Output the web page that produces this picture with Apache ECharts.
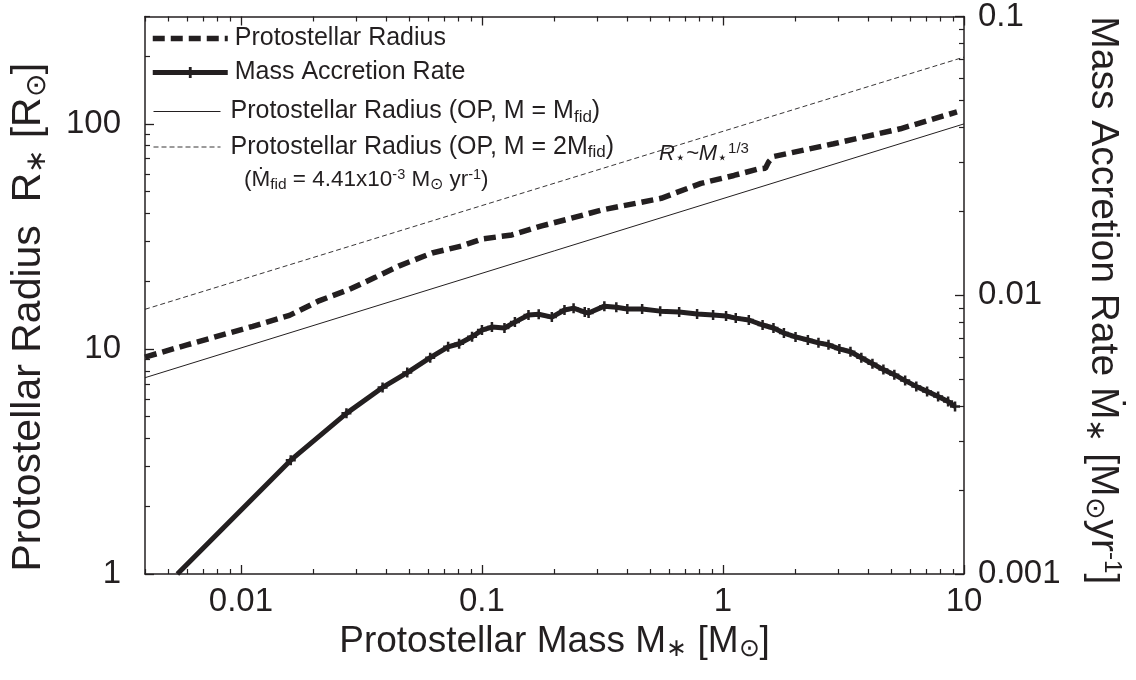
<!DOCTYPE html>
<html><head><meta charset="utf-8">
<script src="https://cdn.jsdelivr.net/npm/echarts@6/dist/echarts.min.js"></script>
<style>html,body{margin:0;padding:0;background:#fff}#c{width:1136px;height:680px}</style>
</head><body><div id="c"></div>
<script>
// ---- data ----
const radiusMass = [0.004, 0.00593, 0.0112, 0.0159, 0.0212, 0.0282, 0.0361, 0.0454, 0.0621, 0.0826, 0.1, 0.133, 0.177, 0.235, 0.313, 0.554, 0.81, 1.11, 1.40, 1.50, 1.55, 1.62, 2.88, 5.44, 9.35];
const radiusValues = [9.2, 10.4, 12.6, 14.1, 16.4, 18.4, 20.8, 23.4, 26.7, 28.7, 30.8, 32.1, 35.2, 38.1, 41.4, 46.7, 54.4, 59.0, 63.0, 63.5, 68.0, 71.6, 81.6, 95.1, 113];

const accMass = [0.00545, 0.0161, 0.0274, 0.0387, 0.049, 0.061, 0.0724, 0.0804, 0.091, 0.1, 0.11, 0.124, 0.137, 0.156, 0.172, 0.195, 0.220, 0.240, 0.267, 0.277, 0.322, 0.361, 0.401, 0.462, 0.549, 0.658, 0.781, 0.91, 1.03, 1.13, 1.28, 1.46, 1.62, 1.79, 2.0, 2.25, 2.49, 2.74, 3.04, 3.38, 3.75, 4.17, 4.63, 5.14, 5.70, 6.34, 7.03, 7.81, 8.59, 9.18];
const accRate = [0.001, 0.00256, 0.00377, 0.00467, 0.00528, 0.00597, 0.00653, 0.0067, 0.0071, 0.0075, 0.00769, 0.00763, 0.00801, 0.00849, 0.00855, 0.00835, 0.00885, 0.00899, 0.0087, 0.00863, 0.00914, 0.00906, 0.00892, 0.00892, 0.00877, 0.0087, 0.00856, 0.00849, 0.00842, 0.00828, 0.00815, 0.00782, 0.00763, 0.00732, 0.00709, 0.00691, 0.00675, 0.00664, 0.00642, 0.00627, 0.00597, 0.00568, 0.00541, 0.00519, 0.00494, 0.00471, 0.00452, 0.00433, 0.00416, 0.00399];

const opMass = [0.004, 10];
const opRadiusFid = [7.45, 100];
const opRadius2Fid = [15.0, 198];

const xMajor = [0.01, 0.1, 1, 10];
const xMajorLabels = ['0.01', '0.1', '1', '10'];
const xMinor = [0.004, 0.005, 0.006, 0.007, 0.008, 0.009, 0.02, 0.03, 0.04, 0.05, 0.06, 0.07, 0.08, 0.09, 0.2, 0.3, 0.4, 0.5, 0.6, 0.7, 0.8, 0.9, 2, 3, 4, 5, 6, 7, 8, 9];
const yLeftMajor = [1, 10, 100];
const yLeftMajorLabels = ['1', '10', '100'];
const yLeftMinor = [2, 3, 4, 5, 6, 7, 8, 9, 20, 30, 40, 50, 60, 70, 80, 90, 200, 300];
const yRightMajor = [0.001, 0.01, 0.1];
const yRightMajorLabels = ['0.001', '0.01', '0.1'];
const yRightMinor = [0.002, 0.003, 0.004, 0.005, 0.006, 0.007, 0.008, 0.009, 0.02, 0.03, 0.04, 0.05, 0.06, 0.07, 0.08, 0.09];

const seriesNames = ['Protostellar Radius', 'Mass Accretion Rate', 'Protostellar Radius (OP, M = Mfid)', 'Protostellar Radius (OP, M = 2Mfid)'];

// ---- chart ----
const INK = '#231f20';
const FONT = "'Liberation Sans', Arial, Helvetica, sans-serif";
const zip = (a, b) => a.map((v, i) => [v, b[i]]);
const labelMap = (vals, labels) => v => { const i = vals.findIndex(x => Math.abs(x - v) / x < 1e-6); return i >= 0 ? labels[i] : ''; };
const plus = 'path://M3,0h2v3h3v2h-3v3h-2v-3h-3v-2h3z';

const tickAxisBase = (extra) => Object.assign({
  type: 'log', logBase: 10, splitLine: { show: false },
  axisLine: { show: false }, axisLabel: { show: false }
}, extra);

const nameRich = (n, s, p) => ({
  n: { fontSize: n, lineHeight: n + 4, fontFamily: FONT, color: INK },
  s: { fontSize: s, lineHeight: s + 2, verticalAlign: 'bottom', fontFamily: FONT, color: INK },
  p: { fontSize: p, lineHeight: p + 2, verticalAlign: 'top', fontFamily: FONT, color: INK }
});

const chart = echarts.init(document.getElementById('c'), null, { renderer: 'canvas' });
const accData = zip(accMass, accRate).map((p, i) => i === 0 ? { value: p, symbol: 'none' } : p);

chart.setOption({
  animation: false,
  backgroundColor: '#fff',
  textStyle: { fontFamily: FONT, color: INK },
  grid: { left: 141, right: 172, top: 12, bottom: 106 },
  xAxis: [
    tickAxisBase({
      position: 'bottom', min: 0.004, max: 10,
      axisLine: { show: true, onZero: false, lineStyle: { color: INK, width: 1.5 } },
      axisTick: { show: true, inside: true, length: 9, customValues: xMajor, lineStyle: { color: INK, width: 1.3 } },
      axisLabel: { show: true, customValues: xMajor, formatter: labelMap(xMajor, xMajorLabels), fontSize: 33, color: INK, fontFamily: FONT, margin: 11 },
      name: '{n|Protostellar Mass M}{s|∗}{n| [M}{s|⊙}{n|]}', nameLocation: 'middle', nameGap: 45,
      nameTextStyle: { color: INK, fontFamily: FONT, rich: nameRich(37, 25, 22) }
    }),
    tickAxisBase({ position: 'bottom', min: 0.004, max: 10,
      axisTick: { show: true, inside: true, length: 5, customValues: xMinor, lineStyle: { color: INK, width: 1.2 } } }),
    tickAxisBase({ position: 'top', min: 0.004, max: 10,
      axisLine: { show: true, onZero: false, lineStyle: { color: INK, width: 1.5 } },
      axisTick: { show: true, inside: true, length: 9, customValues: xMajor, lineStyle: { color: INK, width: 1.3 } } }),
    tickAxisBase({ position: 'top', min: 0.004, max: 10,
      axisTick: { show: true, inside: true, length: 5, customValues: xMinor, lineStyle: { color: INK, width: 1.2 } } })
  ],
  yAxis: [
    tickAxisBase({
      position: 'left', min: 1, max: 300,
      axisLine: { show: true, onZero: false, lineStyle: { color: INK, width: 1.5 } },
      axisTick: { show: true, inside: true, length: 9, customValues: yLeftMajor, lineStyle: { color: INK, width: 1.3 } },
      axisLabel: { show: true, customValues: yLeftMajor, formatter: labelMap(yLeftMajor, yLeftMajorLabels), fontSize: 33, color: INK, fontFamily: FONT, margin: 24 },
      name: '{n|Protostellar Radius  R}{s|∗}{n| [R}{s|⊙}{n|]}', nameLocation: 'middle', nameGap: 94,
      nameTextStyle: { color: INK, fontFamily: FONT, padding: [0, 44, 0, 0], rich: nameRich(41, 28, 24) }
    }),
    tickAxisBase({ position: 'left', min: 1, max: 300,
      axisTick: { show: true, inside: true, length: 5, customValues: yLeftMinor, lineStyle: { color: INK, width: 1.2 } } }),
    tickAxisBase({
      position: 'right', min: 0.001, max: 0.1,
      axisLine: { show: true, onZero: false, lineStyle: { color: INK, width: 1.5 } },
      axisTick: { show: true, inside: true, length: 9, customValues: yRightMajor, lineStyle: { color: INK, width: 1.3 } },
      axisLabel: { show: true, customValues: yRightMajor, formatter: labelMap(yRightMajor, yRightMajorLabels), fontSize: 33, color: INK, fontFamily: FONT, margin: 14 },
      name: '{n|Mass Accretion Rate Ṁ}{s|∗}{n| [M}{s|⊙}{n|yr}{p|-1}{n|]}', nameLocation: 'middle', nameGap: 117, nameRotate: -90,
      nameTextStyle: { color: INK, fontFamily: FONT, padding: [0, 0, 0, 10], rich: nameRich(39, 27, 24) }
    }),
    tickAxisBase({ position: 'right', min: 0.001, max: 0.1,
      axisTick: { show: true, inside: true, length: 5, customValues: yRightMinor, lineStyle: { color: INK, width: 1.2 } } })
  ],
  legend: [
    {
      data: [
        { name: seriesNames[0], itemStyle: { opacity: 0 }, lineStyle: { width: 5.5 } },
        { name: seriesNames[1], lineStyle: { width: 5 } }
      ],
      orient: 'vertical', left: 150, top: 26, padding: 0,
      itemWidth: 75, itemHeight: 14, itemGap: 9, selectedMode: false,
      textStyle: { fontSize: 25, color: INK, fontFamily: FONT, padding: [0, 0, 0, 2] }
    },
    {
      data: [
        { name: seriesNames[2], lineStyle: { width: 1 } },
        { name: seriesNames[3], lineStyle: { width: 0.9 } }
      ],
      orient: 'vertical', left: 153, top: 99, padding: 0,
      itemStyle: { opacity: 0 },
      itemWidth: 67, itemHeight: 14, itemGap: 9, selectedMode: false,
      formatter: name => '{n|' + name.replace(/Mfid\)$/, 'M}{s|fid}{n|)}'),
      textStyle: { color: INK, fontFamily: FONT, padding: [0, 0, 0, 5], rich: {
        n: { fontSize: 25, lineHeight: 28, fontFamily: FONT, color: INK },
        s: { fontSize: 17, lineHeight: 22, verticalAlign: 'bottom', fontFamily: FONT, color: INK } } }
    }
  ],
  graphic: [
    {
      type: 'text', left: 244, top: 167, silent: true,
      style: {
        text: '{n|(Ṁ}{s|fid}{n| = 4.41x10}{p|-3}{n| M}{s|⊙}{n| yr}{p|-1}{n|)}',
        fill: INK,
        rich: {
          n: { fontSize: 22.5, lineHeight: 26, fontFamily: FONT, fill: INK },
          s: { fontSize: 15.5, lineHeight: 18, verticalAlign: 'bottom', fontFamily: FONT, fill: INK },
          p: { fontSize: 14.5, lineHeight: 16, verticalAlign: 'top', fontFamily: FONT, fill: INK }
        }
      }
    },
    {
      type: 'text', left: 659, top: 141, silent: true,
      style: {
        text: '{i|R}{s|⋆}{i|~M}{s|⋆}{p|1/3}',
        fill: INK,
        rich: {
          i: { fontSize: 22, fontStyle: 'italic', lineHeight: 26, fontFamily: FONT, fill: INK },
          s: { fontSize: 17, lineHeight: 18, verticalAlign: 'bottom', fontFamily: FONT, fill: INK },
          p: { fontSize: 15, lineHeight: 16, verticalAlign: 'top', fontFamily: FONT, fill: INK }
        }
      }
    }
  ],
  series: [
    {
      name: seriesNames[2], type: 'line', xAxisIndex: 0, yAxisIndex: 0,
      data: zip(opMass, opRadiusFid), symbol: 'none', showSymbol: false,
      lineStyle: { color: INK, width: 1, type: 'solid' }, itemStyle: { color: INK }
    },
    {
      name: seriesNames[3], type: 'line', xAxisIndex: 0, yAxisIndex: 0,
      data: zip(opMass, opRadius2Fid), symbol: 'none', showSymbol: false,
      lineStyle: { color: INK, width: 0.9, type: [5, 3] }, itemStyle: { color: INK }
    },
    {
      name: seriesNames[0], type: 'line', xAxisIndex: 0, yAxisIndex: 0,
      data: zip(radiusMass, radiusValues), symbol: 'none', showSymbol: false,
      lineStyle: { color: INK, width: 5.5, type: [12, 6], cap: 'butt' }, itemStyle: { color: INK }
    },
    {
      name: seriesNames[1], type: 'line', xAxisIndex: 0, yAxisIndex: 2,
      data: accData, symbol: plus, symbolSize: 10, showAllSymbol: true,
      lineStyle: { color: INK, width: 5 }, itemStyle: { color: INK }
    }
  ]
});
</script>
</body></html>
